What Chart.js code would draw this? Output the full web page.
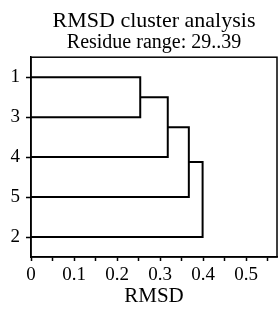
<!DOCTYPE html>
<html>
<head>
<meta charset="utf-8">
<script src="https://cdn.jsdelivr.net/npm/chart.js@4.4.1/dist/chart.umd.min.js"></script>
<style>
  html, body { margin: 0; padding: 0; background: #fff; }
  #wrap { width: 278px; height: 309px; }
</style>
</head>
<body>
<div id="wrap"><canvas id="myChart" width="278" height="309"></canvas></div>
<script>
"use strict";

// leaves from top to bottom, and the joins in the order they happen
let leafLabels = ["1", "3", "4", "5", "2"];
let mergeHeights = [0.254, 0.318, 0.367, 0.399];
let mergeLeft = ["1", "c1", "c2", "c3"];
let mergeRight = ["3", "4", "5", "2"];

let xTicks = [0, 0.05, 0.1, 0.15, 0.2, 0.25, 0.3, 0.35, 0.4, 0.45, 0.5, 0.55];
let xTickLabels = ["0", "", "0.1", "", "0.2", "", "0.3", "", "0.4", "", "0.5", ""];
let xMax = 0.572;

let serif = "'Liberation Serif', 'Times New Roman', serif";

let nodes = {};
for (let i = 0; i < leafLabels.length; i++) {
  nodes[leafLabels[i]] = { x: 0, y: i + 1 };
}

let datasets = [];
for (let i = 0; i < mergeHeights.length; i++) {
  let a = nodes[mergeLeft[i]];
  let b = nodes[mergeRight[i]];
  let h = mergeHeights[i];
  datasets.push({
    data: [
      { x: a.x, y: a.y },
      { x: h, y: a.y },
      { x: h, y: b.y },
      { x: b.x, y: b.y },
    ],
    showLine: true,
    borderColor: "#000",
    borderWidth: 2,
    pointRadius: 0,
    fill: false,
  });
  nodes["c" + (i + 1)] = { x: h, y: (a.y + b.y) / 2 };
}

let boxPlugin = {
  id: "box",
  afterDraw(chart) {
    let a = chart.chartArea;
    let ctx = chart.ctx;
    ctx.save();
    ctx.strokeStyle = "#000";
    ctx.lineWidth = 1.5;
    ctx.strokeRect(a.left, a.top, a.right - a.left, a.bottom - a.top);
    ctx.restore();
  },
};

let ctx = document.getElementById("myChart").getContext("2d");
let myChart = new Chart(ctx, {
  type: "scatter",
  data: { datasets: datasets },
  options: {
    responsive: false,
    animation: false,
    devicePixelRatio: 1,
    layout: { padding: { left: 0, right: 1, top: 0, bottom: 0 } },
    plugins: {
      legend: { display: false },
      tooltip: { enabled: false },
      title: {
        display: true,
        text: "RMSD cluster analysis",
        fullSize: false,
        color: "#000",
        font: { family: serif, size: 22, weight: "normal", lineHeight: 1.1 },
        padding: { top: 9, bottom: 0 },
      },
      subtitle: {
        display: true,
        text: "Residue range: 29..39",
        fullSize: false,
        color: "#000",
        font: { family: serif, size: 20, weight: "normal", lineHeight: 1.0 },
        padding: { top: 0, bottom: 4 },
      },
    },
    scales: {
      x: {
        type: "linear",
        min: 0,
        max: xMax,
        afterBuildTicks(scale) {
          scale.ticks = xTicks.map((v) => ({ value: v }));
        },
        afterFit(scale) {
          scale.height = 52;
        },
        ticks: {
          callback: (v, i) => xTickLabels[i],
          autoSkip: false,
          maxRotation: 0,
          color: "#000",
          padding: 3,
          font: { family: serif, size: 19 },
        },
        grid: { drawOnChartArea: false, drawTicks: true, tickLength: 4, color: "#000", tickWidth: 1.5 },
        border: { display: true, color: "#000", width: 1.5 },
        title: {
          display: true,
          text: "RMSD",
          color: "#000",
          font: { family: serif, size: 21 },
          padding: { top: 0, bottom: 0 },
        },
      },
      y: {
        type: "linear",
        min: 0.5,
        max: 5.5,
        reverse: true,
        afterBuildTicks(scale) {
          scale.ticks = leafLabels.map((l, i) => ({ value: i + 1 }));
        },
        afterFit(scale) {
          scale.width = 31;
        },
        ticks: {
          callback: (v, i) => leafLabels[i],
          autoSkip: false,
          color: "#000",
          padding: 6,
          font: { family: serif, size: 19 },
        },
        grid: { drawOnChartArea: false, drawTicks: true, tickLength: 5, color: "#000", tickWidth: 1.5 },
        border: { display: true, color: "#000", width: 1.5 },
      },
    },
  },
  plugins: [boxPlugin],
});
</script>
</body>
</html>
